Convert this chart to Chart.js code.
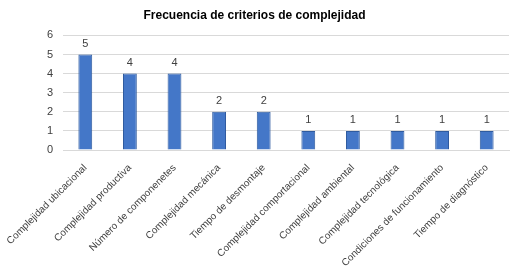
<!DOCTYPE html>
<html>
<head>
<meta charset="utf-8">
<script src="https://cdn.jsdelivr.net/npm/chart.js@4"></script>
<style>
  html, body { margin: 0; padding: 0; background: #fff; }
  #wrap { width: 514px; height: 268px; }
</style>
</head>
<body>
<div id="wrap"><canvas id="chartCriterios" width="514" height="268"></canvas></div>
<script>
// data
const categorias = ['Complejidad ubicacional', 'Complejidad productiva', 'Número de componenetes', 'Complejidad mecánica', 'Tiempo de desmontaje', 'Complejidad comportacional', 'Complejidad ambiental', 'Complejidad tecnológica', 'Condiciones de funcionamiento', 'Tiempo de diagnóstico'];
const frecuencias = [5, 4, 4, 2, 2, 1, 1, 1, 1, 1];
const yTicks = [0, 1, 2, 3, 4, 5, 6];
const titulo = 'Frecuencia de criterios de complejidad';

// value labels above bars (no datalabels plugin available)
const etiquetas = {
    id: 'etiquetas',
    afterDatasetsDraw(chart) {
        const ctx = chart.ctx;
        const meta = chart.getDatasetMeta(0);
        ctx.save();
        ctx.font = '11px "Liberation Sans", Arial, sans-serif';
        ctx.fillStyle = '#404040';
        ctx.textAlign = 'center';
        ctx.textBaseline = 'bottom';
        meta.data.forEach(function(bar, i) {
            ctx.fillText(frecuencias[i], bar.x, bar.y - 5);
        });
        ctx.restore();
    }
};

const ctx = document.getElementById('chartCriterios').getContext('2d');
let chart = new Chart(ctx, {
    type: 'bar',
    data: {
        labels: categorias,
        datasets: [{
            label: 'Frecuencia',
            data: frecuencias,
            backgroundColor: '#4477c8',
            borderColor: '#2f5b9f',
            borderWidth: 1,
            barPercentage: 0.62,
            categoryPercentage: 0.5
        }]
    },
    options: {
        responsive: false,
        animation: false,
        layout: { padding: { left: 0, right: 5, top: 0, bottom: 2 } },
        plugins: {
            legend: { display: false },
            tooltip: { enabled: false },
            title: {
                display: true,
                text: titulo,
                color: '#000',
                font: { family: '"Liberation Sans", Arial, sans-serif', size: 12, weight: 'bold' },
                padding: { top: 8, bottom: 13 }
            }
        },
        scales: {
            x: {
                grid: { display: false, drawTicks: false },
                border: { color: '#d9d9d9' },
                afterFit: function(axis) {
                    axis.height = 116;
                    axis.paddingLeft = 0;
                },
                ticks: {
                    color: '#404040',
                    font: { family: '"Liberation Sans", Arial, sans-serif', size: 10 },
                    maxRotation: 45,
                    minRotation: 45,
                    autoSkip: false,
                    padding: 12
                }
            },
            y: {
                min: 0,
                max: 6,
                afterBuildTicks: function(axis) {
                    axis.ticks = yTicks.map(function(v) { return { value: v }; });
                },
                afterFit: function(axis) {
                    axis.width = 63;
                },
                grid: { color: '#d9d9d9', drawTicks: false },
                border: { display: false },
                ticks: {
                    color: '#404040',
                    font: { family: '"Liberation Sans", Arial, sans-serif', size: 11 },
                    padding: 10
                }
            }
        }
    },
    plugins: [etiquetas]
});
</script>
</body>
</html>
